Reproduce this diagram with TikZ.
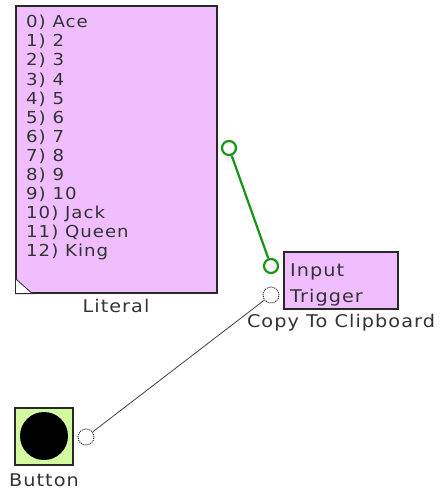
\documentclass[tikz,border=0pt]{standalone}
\usepackage{fontspec}
\setmainfont[FakeStretch=1.1,LetterSpace=6]{DejaVu Sans}
\definecolor{boxpink}{RGB}{240,190,255}
\definecolor{btngreen}{RGB}{212,250,160}
\definecolor{wiregreen}{RGB}{20,150,20}
\definecolor{edge}{RGB}{40,40,40}
\begin{document}
\begin{tikzpicture}[x=1pt,y=-1pt,
  block/.style={draw=edge,line width=1.2pt,fill=boxpink,inner sep=0pt},
  lbl/.style={font=\fontsize{17.5}{19}\selectfont,text=black!80,inner sep=0pt},
  gpin/.style={circle,draw=wiregreen,line width=2.2pt,fill=white,minimum size=14pt,inner sep=0pt},
  wpin/.style={circle,draw=edge,densely dotted,line width=1pt,fill=white,minimum size=16pt,inner sep=0pt},
  gwire/.style={draw=wiregreen,line width=2.2pt},
  bwire/.style={draw=black!75,line width=0.8pt}]
\useasboundingbox (0,0) rectangle (441,494);
% Literal block
\node[block,minimum width=201pt,minimum height=287pt] (lit) at (116.5,149.5) {};
\fill[white,draw=edge,line width=0.8pt] (lit.south west) -- ++(0,-15) -- ++(17,15) -- cycle;
\node[lbl,anchor=north west,align=left,font=\fontsize{16.5}{19.1}\selectfont] (list) at (26,15)
 {0) Ace\\1) 2\\2) 3\\3) 4\\4) 5\\5) 6\\6) 7\\7) 8\\8) 9\\9) 10\\10) Jack\\11) Queen\\12) King};
\node[lbl] (litlbl) at (116,306) {Literal};
\node[gpin] (out) at (229,148) {};
% Copy To Clipboard block
\node[block,minimum width=114pt,minimum height=57pt] (copy) at (341,280.5) {};
\node[lbl,anchor=base west] (inlbl) at (290,276) {Input};
\node[lbl,anchor=base west] (trlbl) at (290,302) {Trigger};
\node[lbl] (copylbl) at (341,323) {Copy To Clipboard};
\node[gpin] (in) at (271,266) {};
\node[wpin] (trig) at (271,295) {};
% Button
\node[draw=edge,line width=1.2pt,fill=btngreen,minimum width=58pt,minimum height=57pt,inner sep=0pt] (btn) at (44,436.5) {};
\node[circle,fill=black,minimum size=48pt,inner sep=0pt] (knob) at (44,436) {};
\node[lbl] (btnlbl) at (44,480) {Button};
\node[wpin] (bpin) at (86,437) {};
% wires
\draw[gwire] (out) -- (in);
\draw[bwire] (bpin) -- (trig);
\end{tikzpicture}
\end{document}
